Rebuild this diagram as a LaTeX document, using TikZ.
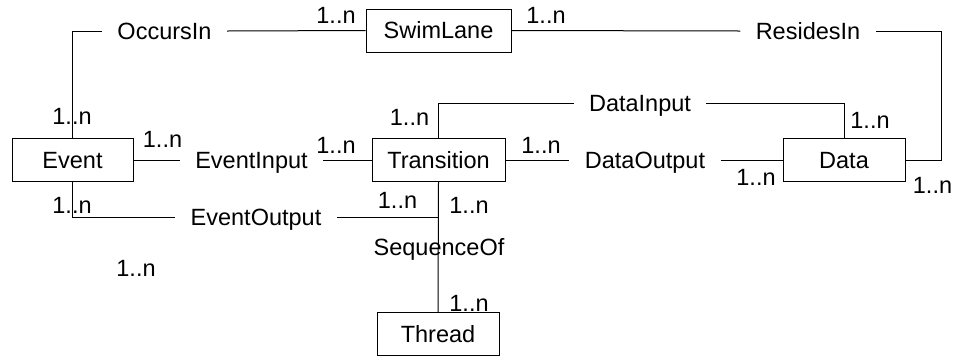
\documentclass[tikz,border=0pt]{standalone}
\usepackage{fontspec}
\setmainfont{Liberation Sans}

\begin{document}
\begin{tikzpicture}[x=1pt,y=-1pt,line width=1pt,
  txt/.style={font=\fontsize{23.5}{28}\selectfont,text height=16.8pt,text depth=0pt},
  entity/.style={txt,draw,minimum height=43pt,inner sep=0pt},
  relation/.style={txt,inner xsep=15pt,inner ysep=0pt},
  card/.style={txt,inner sep=0pt}]
  \useasboundingbox (0,0) rectangle (955,360);

  % entities
  \node[entity,minimum width=145pt] (swim) at (438.5,30.5) {SwimLane};
  \node[entity,minimum width=121pt] (event) at (72.5,160) {Event};
  \node[entity,minimum width=133pt] (trans) at (438.5,160) {Transition};
  \node[entity,minimum width=122pt] (data) at (844,160) {Data};
  \node[entity,minimum width=122pt] (thread) at (438,334) {Thread};

  % relations
  \node[relation] (occurs) at (164.5,31) {OccursIn};
  \node[relation] (resides) at (808,31) {ResidesIn};
  \node[relation] (datain) at (640,103) {DataInput};
  \node[relation] (evin) at (251.5,160) {EventInput};
  \node[relation] (dataout) at (645,160) {DataOutput};
  \node[relation] (evout) at (256,217) {EventOutput};
  \node[card] (seq) at (439,247) {SequenceOf};
  \coordinate (dcorner) at (941,160);

  \draw (event.north) |- (occurs.west);
  \draw (occurs.east) -- (swim.west);
  \draw (swim.east) -- (resides.west);
  \draw (resides.east) -| (dcorner) -- (data.east);
  \draw (trans.north) |- (datain.west);
  \draw (datain.east) -| (data.north);
  \draw (event.east) -- (evin.west);
  \draw (evin.east) -- (trans.west);
  \draw (trans.east) -- (dataout.west);
  \draw (dataout.east) -- (data.west);
  \draw (event.south) |- (evout.west);
  \draw (evout.east) -- (evout.east -| trans.south);
  \draw (trans.south) -- (thread.north);

  % cardinalities
  \node[card] (c1) at (72,116) {1..n};
  \node[card] (c2) at (162.5,139) {1..n};
  \node[card] (c3) at (336,145) {1..n};
  \node[card] (c4) at (336,15) {1..n};
  \node[card] (c5) at (546,15) {1..n};
  \node[card] (c6) at (409.5,117) {1..n};
  \node[card] (c7) at (541,145) {1..n};
  \node[card] (c8) at (870,120) {1..n};
  \node[card] (c9) at (756,177) {1..n};
  \node[card] (c10) at (932.5,185) {1..n};
  \node[card] (c11) at (72,205) {1..n};
  \node[card] (c12) at (397.5,200) {1..n};
  \node[card] (c13) at (469,205) {1..n};
  \node[card] (c14) at (136,268) {1..n};
  \node[card] (c15) at (469,303) {1..n};
\end{tikzpicture}
\end{document}
